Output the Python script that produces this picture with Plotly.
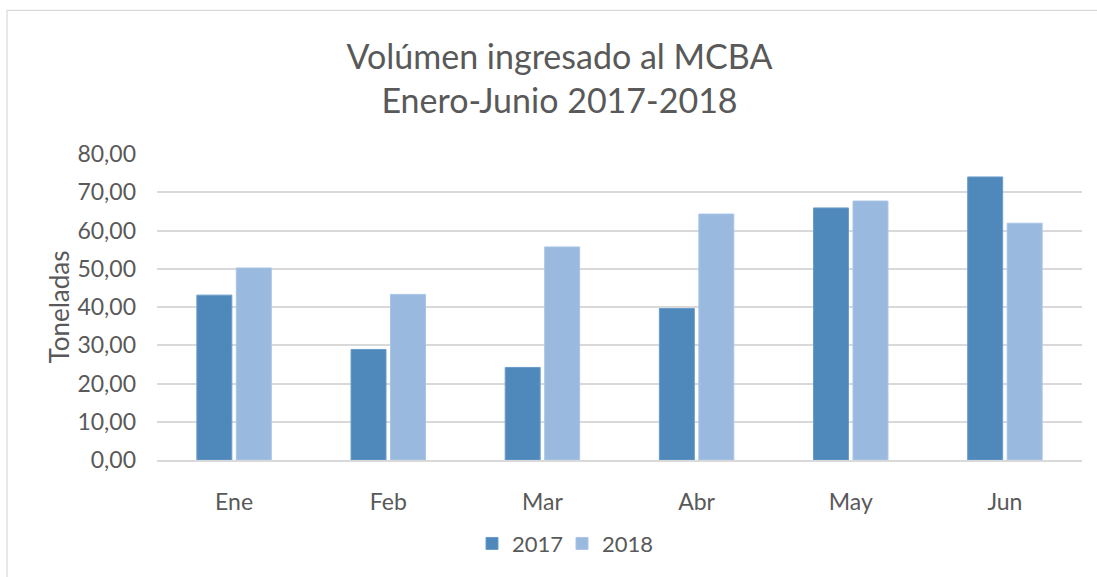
import plotly.graph_objects as go

months = ["Ene", "Feb", "Mar", "Abr", "May", "Jun"]
v2017 = [43.1, 28.9, 24.2, 39.6, 65.9, 74.0]
v2018 = [50.2, 43.3, 55.7, 64.3, 67.7, 61.9]
series_names = ["2017", "2018"]
y_ticks = [0, 10, 20, 30, 40, 50, 60, 70, 80]

W, H = 1097, 577
L, R, T, B = 157, 1082, 154.3, 462.7
pw, ph = R - L, B - T

def px(x):
    return (x - L) / pw

def py(y):
    return (B - y) / ph

FONT = "Lato"
GREY = "#595959"

fig = go.Figure()
fig.add_trace(go.Bar(x=months, y=v2017, name=series_names[0], legend="legend",
                     marker=dict(color="#4F89BC", line=dict(color="#6A9BC9", width=1))))
fig.add_trace(go.Bar(x=months, y=v2018, name=series_names[1], legend="legend2",
                     marker=dict(color="#99B9DF", line=dict(color="#A9C5E6", width=1))))

legend_common = dict(orientation="h", xanchor="left", y=py(547), yanchor="middle",
                     font=dict(family=FONT, size=22, color=GREY),
                     bgcolor="rgba(0,0,0,0)")

fig.update_layout(
    width=W, height=H,
    margin=dict(l=L, r=W - R, t=T, b=H - B, pad=0),
    paper_bgcolor="white", plot_bgcolor="white",
    separators=",.",
    barmode="group", bargap=0.488, bargroupgap=0.114,
    font=dict(family=FONT, color=GREY, size=23),
    title=dict(text="Volúmen ingresado al MCBA<br>Enero-Junio 2017-2018",
               x=559.5 / W, xanchor="center", xref="container",
               y=1 - 69 / H, yanchor="top", yref="container",
               font=dict(family=FONT, size=34, color=GREY)),
    showlegend=True,
    legend=dict(x=px(472), **legend_common),
    legend2=dict(x=px(562), **legend_common),
    xaxis=dict(showgrid=False, showline=True, linecolor="#D9D9D9", linewidth=1.5,
               ticks="", ticklabelstandoff=21,
               tickfont=dict(family=FONT, size=23, color=GREY)),
    yaxis=dict(range=[0, 80], tickvals=y_ticks, tickformat=".2f",
               showgrid=True, gridcolor="#D9D9D9", gridwidth=1.5,
               zeroline=False, showline=False, ticks="", ticklabelstandoff=20,
               tickfont=dict(family=FONT, size=23, color=GREY),
               title=dict(text="Toneladas", standoff=0,
                          font=dict(family=FONT, size=26, color=GREY))),
    shapes=[dict(type="rect", xref="paper", yref="paper",
                 x0=px(7), x1=px(1119), y0=py(590), y1=py(9.5),
                 line=dict(color="#D9D9D9", width=1.2), fillcolor="rgba(0,0,0,0)",
                 layer="below")],
)

fig.write_html("out.html", config={"displayModeBar": False},
               post_script="document.body.style.margin='0';")
